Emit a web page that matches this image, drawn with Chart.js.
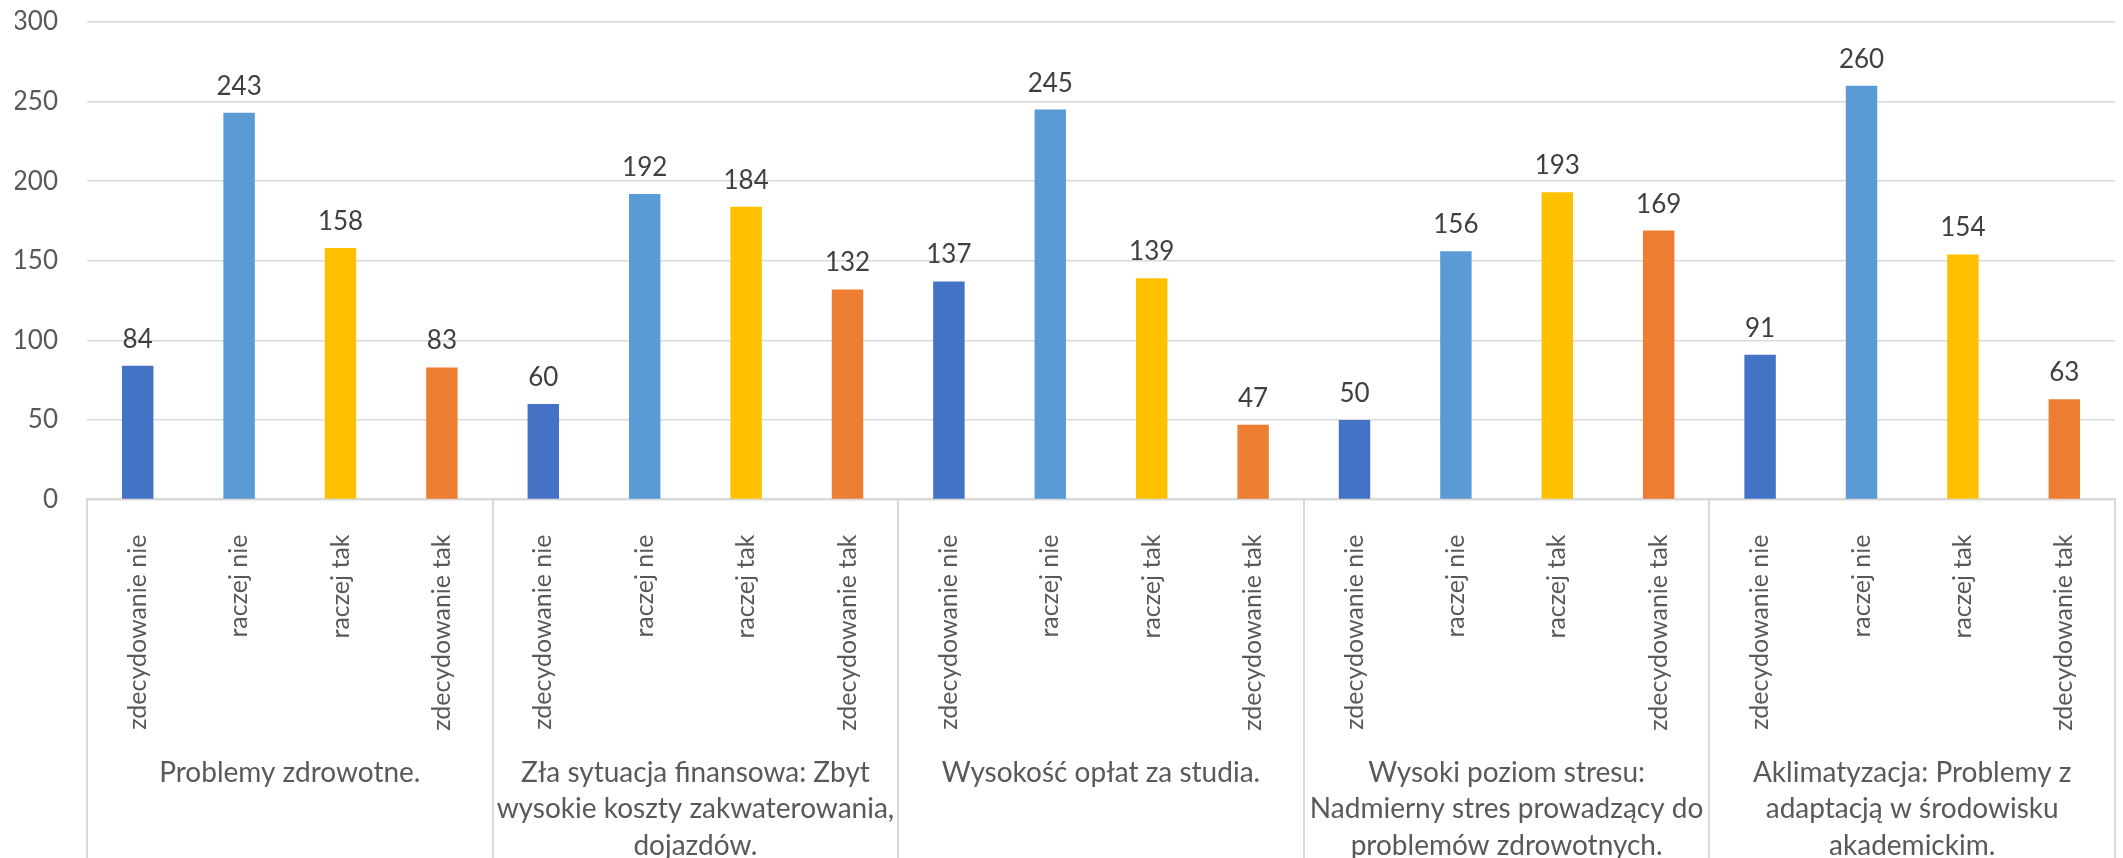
<!DOCTYPE html>
<html>
<head>
<meta charset="utf-8">
<script src="https://cdn.jsdelivr.net/npm/chart.js"></script>
<style>
  html, body { margin: 0; padding: 0; background: #fff; }
  #wrap { width: 2123px; height: 858px; position: relative; }
</style>
</head>
<body>
<div id="wrap"><canvas id="chart"></canvas></div>
<script>
// Odpowiedzi (podkategorie)
const odpowiedzi = ['zdecydowanie nie', 'raczej nie', 'raczej tak', 'zdecydowanie tak'];

// Grupy (kategorie główne)
const grupy = [
  'Problemy zdrowotne.',
  ['Zła sytuacja finansowa: Zbyt', 'wysokie koszty zakwaterowania,', 'dojazdów.'],
  'Wysokość opłat za studia.',
  ['Wysoki poziom stresu:', 'Nadmierny stres prowadzący do', 'problemów zdrowotnych.'],
  ['Aklimatyzacja: Problemy z', 'adaptacją w środowisku', 'akademickim.']
];

// Wartości dla każdej odpowiedzi w kolejnych grupach
const zdecydowanieNie = [84, 60, 137, 50, 91];
const raczejNie = [243, 192, 245, 156, 260];
const raczejTak = [158, 184, 139, 193, 154];
const zdecydowanieTak = [83, 132, 47, 169, 63];

const yTicks = [0, 50, 100, 150, 200, 250, 300];

const kolory = ['#4472C4', '#5B9BD5', '#FFC000', '#ED7D31'];

// Spłaszczenie danych do 20 słupków
const serie = [zdecydowanieNie, raczejNie, raczejTak, zdecydowanieTak];
const etykiety = [];
const wartosci = [];
const tla = [];
grupy.forEach((g, gi) => {
  odpowiedzi.forEach((o, oi) => {
    etykiety.push(o);
    wartosci.push(serie[oi][gi]);
    tla.push(kolory[oi]);
  });
});

const FONT = 'Lato, "Open Sans", sans-serif';

// Etykiety wartości nad słupkami
const etykietyWartosci = {
  id: 'etykietyWartosci',
  afterDatasetsDraw(chart) {
    const ctx = chart.ctx;
    const meta = chart.getDatasetMeta(0);
    ctx.save();
    ctx.font = '26px ' + FONT;
    ctx.fillStyle = '#404040';
    ctx.textAlign = 'center';
    ctx.textBaseline = 'alphabetic';
    meta.data.forEach((bar, i) => {
      ctx.fillText(String(wartosci[i]), bar.x, bar.y - 18);
    });
    ctx.restore();
  }
};

// Linie oddzielające grupy pod osią X
const separatory = {
  id: 'separatory',
  afterDraw(chart) {
    const ctx = chart.ctx;
    const x2 = chart.scales.x2;
    const top = chart.chartArea.bottom;
    ctx.save();
    ctx.strokeStyle = '#d9d9d9';
    ctx.lineWidth = 2;
    for (let g = 0; g <= grupy.length; g++) {
      const x = Math.round(x2.getPixelForValue(g - 0.5));
      ctx.beginPath();
      ctx.moveTo(x, top);
      ctx.lineTo(x, chart.height);
      ctx.stroke();
    }
    ctx.restore();
  }
};

new Chart(document.getElementById('chart').getContext('2d'), {
  type: 'bar',
  data: {
    labels: etykiety,
    datasets: [{
      data: wartosci,
      backgroundColor: tla,
      barPercentage: 0.31,
      categoryPercentage: 1
    }]
  },
  options: {
    responsive: true,
    maintainAspectRatio: false,
    animation: false,
    layout: { padding: { top: 22, right: 8, left: 15, bottom: 0 } },
    plugins: {
      legend: { display: false },
      tooltip: { enabled: false }
    },
    scales: {
      y: {
        min: 0,
        max: 300,
        afterBuildTicks(axis) { axis.ticks = yTicks.map(v => ({ value: v })); },
        afterFit(axis) { axis.paddingTop = 0; axis.paddingBottom = 0; axis.width = 72; },
        grid: { color: '#d9d9d9', lineWidth: 1.5, drawTicks: false },
        border: { display: false },
        ticks: { color: '#595959', font: { family: FONT, size: 26 }, padding: 29 }
      },
      x: {
        afterFit(axis) { axis.paddingLeft = 0; axis.paddingRight = 0; axis.height -= 15; },
        grid: { display: false, drawTicks: false },
        border: { display: true, color: '#d9d9d9', width: 2 },
        ticks: {
          color: '#595959',
          font: { family: FONT, size: 25 },
          minRotation: 90,
          maxRotation: 90,
          autoSkip: false,
          padding: 35
        }
      },
      x2: {
        type: 'category',
        position: 'bottom',
        labels: grupy,
        offset: true,
        afterFit(axis) { axis.paddingLeft = 0; axis.paddingRight = 0; axis.height -= 10; },
        grid: { display: false, drawTicks: false },
        border: { display: false },
        ticks: {
          color: '#595959',
          font: { family: FONT, size: 28, lineHeight: 1.3 },
          maxRotation: 0,
          autoSkip: false,
          padding: 4
        }
      }
    }
  },
  plugins: [etykietyWartosci, separatory]
});
</script>
</body>
</html>
